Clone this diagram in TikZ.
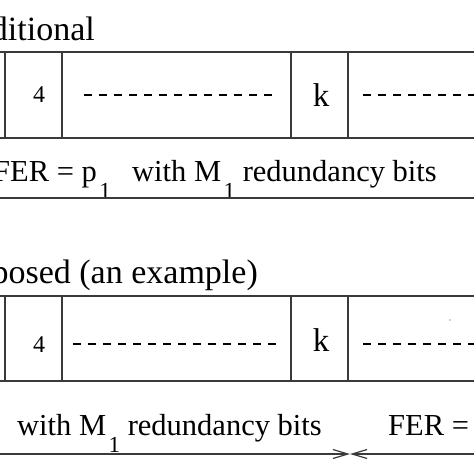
\documentclass[tikz,border=0pt]{standalone}
\usepackage{fontspec}
\setmainfont{Liberation Serif}
\usetikzlibrary{arrows.meta,positioning}
\definecolor{cL}{HTML}{3a3a3a}
\tikzset{
  frame/.style={draw=cL,line width=1.2pt},
  dashrow/.style={draw=black,line width=1.3pt,dash pattern=on 8pt off 7pt},
  lbl/.style={inner sep=0pt,font=\fontsize{30.5}{36}\selectfont},
  head/.style={inner sep=0pt,font=\fontsize{34}{40}\selectfont},
  cellnum/.style={inner sep=0pt,font=\fontsize{24}{28}\selectfont},
  cellk/.style={inner sep=0pt,font=\fontsize{33}{40}\selectfont},
  dimarrow/.style={-{Straight Barb[length=15pt,width=9pt]},draw=cL,line width=1.2pt},
}
\newcommand{\lsub}[1]{\kern2.5pt\raisebox{-17pt}{\fontsize{23}{26}\selectfont #1}}
\begin{document}
\begin{tikzpicture}[x=1pt,y=1pt]
  \useasboundingbox (0,0) rectangle (474,-474);
  \clip (0,0) rectangle (474,-474);
  % traditional frame
  \node[head,anchor=base east] (trad) at (95,-40) {ditional};
  \draw[frame] (-5,-52) -- (479,-52) (-5,-138) -- (479,-138);
  \foreach \x in {5,62,291,348} \draw[frame] (\x,-52) -- (\x,-138);
  \node[cellnum] (fourA) at (39,-95) {4};
  \draw[dashrow] (84,-95) -- (276,-95);
  \node[cellk] (kA) at (321,-95) {k};
  \draw[dashrow] (363,-95) -- (479,-95);
  \node[lbl,anchor=base west] (ferA) at (-7,-181) {FER = p\lsub{1}};
  \node[lbl,anchor=base west] (redA) at (132,-181) {with M\lsub{1} redundancy bits};
  \coordinate (dimAl) at (-5,-198); \coordinate (dimAr) at (479,-198);
  \draw[frame] (dimAl) -- (dimAr);
  % proposed frame
  \node[head,anchor=base east] (prop) at (258,-283) {posed (an example)};
  \draw[frame] (-5,-296) -- (479,-296) (-5,-381) -- (479,-381);
  \foreach \x in {5,62,291,348} \draw[frame] (\x,-296) -- (\x,-381);
  \node[cellnum] (fourB) at (39,-345) {4};
  \draw[dashrow] (73,-344) -- (276,-344);
  \node[cellk] (kB) at (321,-340) {k};
  \draw[dashrow] (363,-344) -- (479,-344);
  \fill[cL] (450,-320) circle (0.6pt);
  \node[lbl,anchor=base west] (redB) at (17,-435) {with M\lsub{1} redundancy bits};
  \node[lbl,anchor=base west] (ferB) at (388,-435) {FER =};
  \coordinate (dimBl) at (-5,-454); \coordinate (dimBm) at (350,-454);
  \coordinate (dimBr) at (479,-454);
  \draw[dimarrow] (dimBl) -- (dimBm);
  \draw[dimarrow] (dimBr) -- (dimBm);
\end{tikzpicture}
\end{document}
